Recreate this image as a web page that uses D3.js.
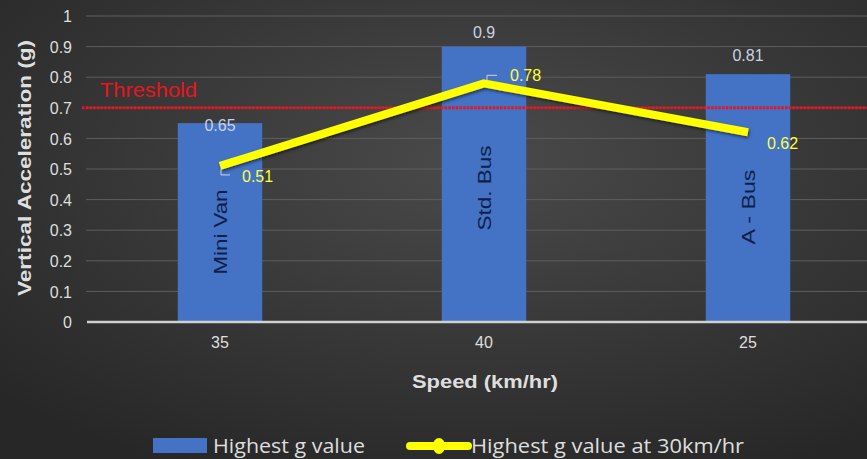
<!DOCTYPE html>
<html>
<head>
<meta charset="utf-8">
<script src="https://cdn.jsdelivr.net/npm/d3@7"></script>
<style>
  html, body { margin: 0; padding: 0; background: #2e2e2e; }
  svg { display: block; }
</style>
</head>
<body>
<svg id="chart" width="867" height="459"></svg>
<script>
// Chart data
const speeds = ["35", "40", "25"];
const vehicles = ["Mini Van", "Std. Bus", "A - Bus"];
const highestG = [0.65, 0.9, 0.81];
const highestGAt30 = [0.51, 0.78, 0.62];
const threshold = 0.7;
const yTicks = [0, 0.1, 0.2, 0.3, 0.4, 0.5, 0.6, 0.7, 0.8, 0.9, 1];
const seriesNames = ["Highest g value", "Highest g value at 30km/hr"];

const W = 867, H = 459;
const svg = d3.select("#chart");

// Background: soft radial gradient, dark charcoal
const defs = svg.append("defs");
const bg = defs.append("radialGradient").attr("id", "bg")
  .attr("cx", "55%").attr("cy", "35%").attr("r", "75%");
bg.append("stop").attr("offset", "0%").attr("stop-color", "#4a4a4a");
bg.append("stop").attr("offset", "100%").attr("stop-color", "#272727");
svg.append("rect").attr("width", W).attr("height", H).attr("fill", "url(#bg)");

const shadow = defs.append("filter").attr("id", "shadow")
  .attr("x", "-10%").attr("y", "-30%").attr("width", "120%").attr("height", "160%");
shadow.append("feDropShadow").attr("dx", 1).attr("dy", 2).attr("stdDeviation", 1.5)
  .attr("flood-color", "#000").attr("flood-opacity", 0.5);

const x = d3.scaleBand().domain(speeds).range([88, 880])
  .paddingInner(0.68).paddingOuter(0.34);
const y = d3.scaleLinear().domain([0, 1]).range([322, 16]);

const font = "'Liberation Sans', Arial, sans-serif";
const fit = (sel, len) => sel.attr("textLength", len).attr("lengthAdjust", "spacingAndGlyphs");

// Gridlines
svg.append("g").selectAll("line").data(yTicks.filter(d => d > 0)).join("line")
  .attr("x1", 86).attr("x2", W)
  .attr("y1", d => y(d)).attr("y2", d => y(d))
  .attr("stroke", "#5e5e5e").attr("stroke-width", 1);

// Y axis labels
const yAxis = d3.axisLeft(y).tickValues(yTicks).tickSize(0).tickPadding(0)
  .tickFormat(d3.format("~g"));
const yg = svg.append("g").attr("transform", "translate(72,0)").call(yAxis);
yg.select(".domain").remove();
yg.selectAll("text").attr("fill", "#dedede").style("font", `16px ${font}`)
  .attr("dy", "0.35em");

// Bars
svg.append("g").selectAll("rect").data(speeds).join("rect")
  .attr("x", d => x(d)).attr("width", x.bandwidth())
  .attr("y", (d, i) => y(highestG[i]))
  .attr("height", (d, i) => y(0) - y(highestG[i]))
  .attr("fill", "#4472c4");

// Zero baseline
svg.append("line").attr("x1", 87).attr("x2", W)
  .attr("y1", y(0)).attr("y2", y(0))
  .attr("stroke", "#d0d0d0").attr("stroke-width", 2.5);

// Vehicle names inside the bars
const nameCenters = [232, 188, 207];
const nameLengths = [85, 85, 75];
svg.append("g").selectAll("text").data(vehicles).join("text")
  .attr("transform", (d, i) => `translate(${x(speeds[i]) + x.bandwidth() / 2 + 7},${nameCenters[i]}) rotate(-90)`)
  .attr("text-anchor", "middle")
  .attr("fill", "#0e1f4a").style("font", `18px ${font}`)
  .text(d => d)
  .each(function (d, i) { fit(d3.select(this), nameLengths[i]); });

// Bar value labels
const barLabelShift = [2, -14, -19];
svg.append("g").selectAll("text").data(highestG).join("text")
  .attr("x", (d, i) => x(speeds[i]) + x.bandwidth() / 2)
  .attr("y", (d, i) => y(d) + barLabelShift[i])
  .attr("dy", "0.35em")
  .attr("text-anchor", "middle")
  .attr("fill", "#c8d2e6").style("font", `16px ${font}`)
  .text(d => d);

// Threshold line
svg.append("line").attr("x1", 82).attr("x2", W)
  .attr("y1", y(threshold)).attr("y2", y(threshold))
  .attr("stroke", "#e8141e").attr("stroke-width", 3)
  .attr("stroke-dasharray", "2.5,1.2");
fit(svg.append("text").attr("x", 100).attr("y", 97)
  .attr("fill", "#e8141e").style("font", `20px ${font}`)
  .text("Threshold"), 97);

// Line series at 30 km/hr
const cx = i => x(speeds[i]) + x.bandwidth() / 2;
const line = d3.line().x((d, i) => cx(i)).y(d => y(d));
svg.append("path").datum(highestGAt30)
  .attr("d", line)
  .attr("fill", "none").attr("stroke", "#ffff00").attr("stroke-width", 8)
  .attr("stroke-linejoin", "round").attr("stroke-linecap", "butt")
  .attr("filter", "url(#shadow)");

// Line value labels with small leader marks
const lineLabelOff = [[22, 10], [26, -8], [19, 11]];
const leaders = svg.append("g").attr("stroke", "#c8d2e6").attr("stroke-width", 1).attr("fill", "none");
[0, 1].forEach(i => {
  const px = cx(i), py = y(highestGAt30[i]);
  if (i === 0) leaders.append("path").attr("d", `M${px + 1},${py + 3}V${py + 9}H${px + 10}`);
  else leaders.append("path").attr("d", `M${px + 3},${py - 3}V${py - 8}H${px + 13}`);
});
svg.append("g").selectAll("text").data(highestGAt30).join("text")
  .attr("x", (d, i) => cx(i) + lineLabelOff[i][0])
  .attr("y", (d, i) => y(d) + lineLabelOff[i][1])
  .attr("dy", "0.35em")
  .attr("fill", "#ffff40").style("font", `16px ${font}`)
  .text(d => d);

// X axis labels
const xAxis = d3.axisBottom(x).tickSize(0).tickPadding(0);
const xg = svg.append("g").attr("transform", `translate(0,${y(0) + 15})`).call(xAxis);
xg.select(".domain").remove();
xg.selectAll("text").attr("fill", "#dedede").style("font", `16px ${font}`)
  .attr("dy", "0.7em");

// Axis titles
fit(svg.append("text").attr("x", 485).attr("y", 388)
  .attr("text-anchor", "middle").attr("fill", "#dedede")
  .style("font", `bold 19px ${font}`).text("Speed (km/hr)"), 146);
fit(svg.append("text").attr("transform", "translate(31,168) rotate(-90)")
  .attr("text-anchor", "middle").attr("fill", "#dedede")
  .style("font", `bold 19px ${font}`).text("Vertical Acceleration (g)"), 256);

// Legend
const legFont = "'Open Sans', sans-serif";
const leg = svg.append("g");
leg.append("rect").attr("x", 153).attr("y", 438).attr("width", 54).attr("height", 15).attr("fill", "#4472c4");
fit(leg.append("text").attr("x", 213).attr("y", 453)
  .attr("fill", "#dedede").style("font", `20px ${legFont}`).text(seriesNames[0]), 152);
leg.append("line").attr("x1", 410).attr("x2", 468).attr("y1", 446).attr("y2", 446)
  .attr("stroke", "#ffff00").attr("stroke-width", 8).attr("stroke-linecap", "round");
leg.append("ellipse").attr("cx", 439).attr("cy", 446).attr("rx", 6).attr("ry", 8).attr("fill", "#ffff00");
fit(leg.append("text").attr("x", 471).attr("y", 453)
  .attr("fill", "#dedede").style("font", `20px ${legFont}`).text(seriesNames[1]), 273);
</script>
</body>
</html>
